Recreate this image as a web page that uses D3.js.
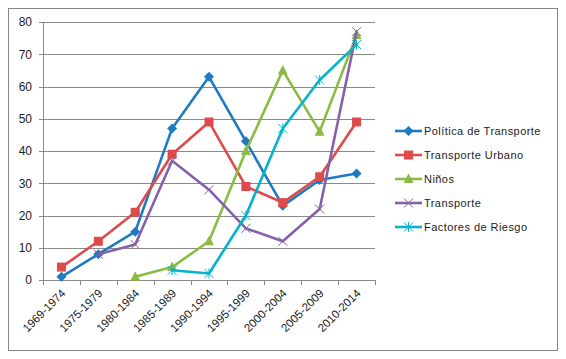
<!DOCTYPE html>
<html><head><meta charset="utf-8">
<script src="https://cdn.jsdelivr.net/npm/d3@7"></script>
<style>body{margin:0;background:#fff}svg{display:block}text{font-family:"Liberation Sans",Arial,sans-serif;fill:#222}</style>
</head><body>
<svg id="c" width="566" height="359"></svg>
<script>
const categories = ["1969-1974","1975-1979","1980-1984","1985-1989","1990-1994","1995-1999","2000-2004","2005-2009","2010-2014"];
const politica   = [1, 8, 15, 47, 63, 43, 23, 31, 33];
const urbano     = [4, 12, 21, 39, 49, 29, 24, 32, 49];
const ninos      = [null, null, 1, 4, 12, 40, 65, 46, 76];
const transporte = [null, 8, 11, 37, 28, 16, 12, 22, 77];
const factores   = [null, null, null, 3, 2, 20, 47, 62, 73];
const yTicks = [0,10,20,30,40,50,60,70,80];

const series = [
  {name:"Política de Transporte", values:politica, color:"#1F7AC0", marker:"diamond"},
  {name:"Transporte Urbano", values:urbano, color:"#DE4B4B", marker:"square"},
  {name:"Niños", values:ninos, color:"#8CBB45", marker:"triangle"},
  {name:"Transporte", values:transporte, color:"#8461A8", marker:"x"},
  {name:"Factores de Riesgo", values:factores, color:"#05B4CC", marker:"star"}
];

const svg = d3.select("#c");
svg.append("rect").attr("x",8.5).attr("y",8.5).attr("width",549).attr("height",342)
  .attr("fill","#fff").attr("stroke","#868686");

const L=43, R=375, T=22, B=280;
const x = d3.scaleBand().domain(categories).range([L,R]);
const y = d3.scaleLinear().domain([0,80]).range([B,T]);

// grid
svg.append("g").selectAll("line").data(yTicks).join("line")
  .attr("x1",L-4).attr("x2",R).attr("y1",d=>Math.round(y(d))+0.5).attr("y2",d=>Math.round(y(d))+0.5)
  .attr("stroke","#8a8a8a").attr("stroke-width",1);
svg.append("line").attr("x1",L+0.5).attr("x2",L+0.5).attr("y1",T).attr("y2",B).attr("stroke","#8a8a8a");
// y labels
svg.append("g").selectAll("text").data(yTicks).join("text")
  .attr("x",32).attr("y",d=>y(d)).attr("dy","0.36em").attr("text-anchor","end")
  .attr("font-size","12px").text(d=>d);
// x ticks
const edges = categories.map(c=>x(c)).concat([R]);
svg.append("g").selectAll("line").data(edges).join("line")
  .attr("x1",d=>Math.round(d)+0.5).attr("x2",d=>Math.round(d)+0.5).attr("y1",B).attr("y2",B+5)
  .attr("stroke","#8a8a8a");
svg.append("g").selectAll("text").data(categories).join("text")
  .attr("transform",d=>`translate(${x(d)+x.bandwidth()/2+2},${B+11}) rotate(-45)`)
  .attr("text-anchor","end").attr("dy","0.35em").attr("font-size","11.5px").text(d=>d);

function drawMarker(g, type, color, cx, cy){
  if(type==="diamond"){
    g.append("path").attr("d",`M${cx},${cy-5}L${cx+5},${cy}L${cx},${cy+5}L${cx-5},${cy}Z`).attr("fill",color);
  } else if(type==="square"){
    g.append("rect").attr("x",cx-4.5).attr("y",cy-4.5).attr("width",9).attr("height",9).attr("fill",color);
  } else if(type==="triangle"){
    g.append("path").attr("d",`M${cx},${cy-5.5}L${cx+5},${cy+4}L${cx-5},${cy+4}Z`).attr("fill",color);
  } else if(type==="x"){
    g.append("path").attr("d",`M${cx-4.5},${cy-4.5}L${cx+4.5},${cy+4.5}M${cx+4.5},${cy-4.5}L${cx-4.5},${cy+4.5}`)
      .attr("stroke",color).attr("stroke-width",1).attr("fill","none");
  } else if(type==="star"){
    g.append("path").attr("d",`M${cx-4.5},${cy-4.5}L${cx+4.5},${cy+4.5}M${cx+4.5},${cy-4.5}L${cx-4.5},${cy+4.5}M${cx},${cy-5}L${cx},${cy+5}`)
      .attr("stroke",color).attr("stroke-width",1).attr("fill","none");
  }
}

const line = d3.line().defined(d=>d.v!==null).x(d=>x(d.c)+x.bandwidth()/2).y(d=>y(d.v));
series.forEach(s=>{
  const g = svg.append("g");
  const pts = categories.map((c,i)=>({c, v:s.values[i]}));
  g.append("path").datum(pts).attr("d",line).attr("fill","none").attr("stroke",s.color)
    .attr("stroke-width",2.6).attr("stroke-linejoin","round").attr("stroke-linecap","round");
  pts.filter(d=>d.v!==null).forEach(d=>drawMarker(g,s.marker,s.color,x(d.c)+x.bandwidth()/2,y(d.v)));
});

// legend
const lg = svg.append("g");
series.forEach((s,i)=>{
  const ly = 131 + i*24;
  lg.append("line").attr("x1",395).attr("x2",422).attr("y1",ly).attr("y2",ly)
    .attr("stroke",s.color).attr("stroke-width",2.6);
  drawMarker(lg, s.marker, s.color, 408.5, ly);
  lg.append("text").attr("x",424).attr("y",ly).attr("dy","0.36em").attr("font-size","11px")
    .attr("letter-spacing","0.45px").text(s.name);
});
</script>
</body></html>
